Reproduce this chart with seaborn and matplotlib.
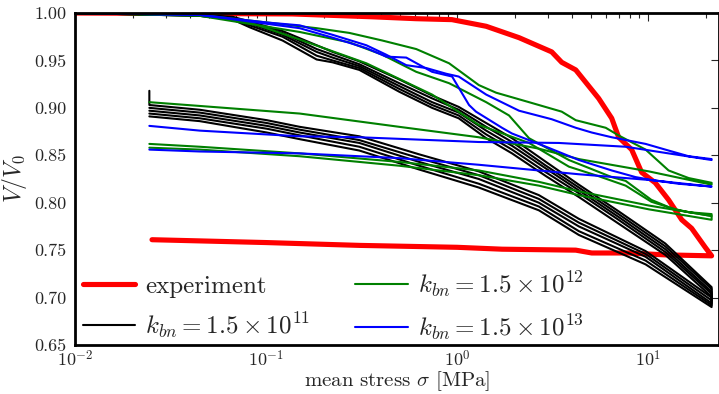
import numpy as np
import pandas as pd
import matplotlib
matplotlib.use("Agg")
import matplotlib.pyplot as plt
import seaborn as sns
from matplotlib.lines import Line2D
from matplotlib.ticker import FuncFormatter, LogLocator, FixedLocator

# experiment: loading then unloading
exp_sigma = [0.01, 0.137, 0.36, 0.61, 0.94, 1.42, 2.11, 3.13, 3.53, 4.18, 5.51, 6.45, 7.01, 8.2,
             9.25, 10.9, 12.8, 15.0, 16.9, 19.9, 21.5,
             12.3, 7.9, 5.07, 4.18, 1.72, 1.0, 0.31, 0.1, 0.0253]
exp_v = [1.0, 0.999, 0.996, 0.994, 0.993, 0.986, 0.974, 0.959, 0.948, 0.940, 0.910, 0.889, 0.869, 0.856,
         0.832, 0.821, 0.803, 0.782, 0.773, 0.753, 0.744,
         0.745, 0.747, 0.747, 0.750, 0.751, 0.753, 0.755, 0.758, 0.761]

# k_bn = 1.5e11 (black)
k11_load_sigma = [0.01, 0.045, 0.067, 0.082, 0.122, 0.184, 0.223, 0.308, 0.498, 0.74, 1.02, 1.42,
                  1.94, 2.92, 4.34, 7.0, 12.3, 21.5]
k11_load_v1 = [1.0, 0.998, 0.996, 0.991, 0.981, 0.966, 0.959, 0.949, 0.930, 0.913, 0.901, 0.884,
               0.868, 0.843, 0.819, 0.791, 0.757, 0.711]
k11_load_v2 = [1.0, 0.998, 0.995, 0.990, 0.979, 0.962, 0.956, 0.946, 0.926, 0.910, 0.898, 0.880,
               0.864, 0.839, 0.816, 0.788, 0.754, 0.709]
k11_load_v3 = [1.0, 0.998, 0.995, 0.989, 0.977, 0.959, 0.953, 0.944, 0.923, 0.906, 0.895, 0.876,
               0.860, 0.836, 0.813, 0.785, 0.751, 0.706]
k11_load_v4 = [1.0, 0.997, 0.994, 0.987, 0.975, 0.955, 0.950, 0.942, 0.920, 0.903, 0.892, 0.872,
               0.856, 0.832, 0.810, 0.782, 0.748, 0.704]
k11_load_v5 = [1.0, 0.997, 0.993, 0.985, 0.971, 0.951, 0.948, 0.940, 0.917, 0.900, 0.889, 0.868,
               0.852, 0.828, 0.806, 0.778, 0.745, 0.701]
k11_unload_sigma = [21.5, 9.7, 4.34, 2.68, 1.3, 0.633, 0.308, 0.15, 0.101, 0.045, 0.0245]
k11_unload_v1 = [0.700, 0.749, 0.783, 0.808, 0.833, 0.851, 0.870, 0.880, 0.887, 0.898, 0.903]
k11_unload_v2 = [0.697, 0.746, 0.779, 0.804, 0.829, 0.847, 0.866, 0.877, 0.884, 0.895, 0.900]
k11_unload_v3 = [0.694, 0.743, 0.775, 0.800, 0.825, 0.843, 0.863, 0.874, 0.881, 0.892, 0.897]
k11_unload_v4 = [0.692, 0.739, 0.770, 0.796, 0.820, 0.839, 0.859, 0.871, 0.878, 0.889, 0.894]
k11_unload_v5 = [0.690, 0.735, 0.766, 0.792, 0.816, 0.835, 0.855, 0.867, 0.874, 0.886, 0.891]
k11_spike_sigma = [0.0245, 0.0245]
k11_spike_v = [0.903, 0.918]

# k_bn = 1.5e12 (green)
k12_load_sigma1 = [0.01, 0.045, 0.101, 0.184, 0.273, 0.406, 0.611, 0.908, 1.3, 1.6, 2.38, 3.53, 4.18,
                   6.0, 7.0, 9.7, 12.8, 16.3, 21.5]
k12_load_v1 = [1.0, 0.998, 0.990, 0.984, 0.979, 0.971, 0.962, 0.947, 0.924, 0.916, 0.906, 0.896, 0.887,
               0.879, 0.871, 0.856, 0.834, 0.826, 0.821]
k12_load_sigma2 = [0.01, 0.045, 0.15, 0.273, 0.406, 0.611, 0.908, 1.42, 1.87, 2.38, 3.85, 6.45, 7.63,
                   10.4, 13.3, 16.3, 21.5]
k12_load_v2 = [1.0, 0.997, 0.980, 0.969, 0.956, 0.938, 0.926, 0.906, 0.892, 0.868, 0.845, 0.827, 0.823,
               0.803, 0.794, 0.790, 0.788]
k12_load_sigma3 = [0.01, 0.045, 0.082, 0.15, 0.335, 0.74, 1.3, 2.38, 3.85, 5.5, 7.63, 10.4, 14.4, 21.5]
k12_load_v3 = [1.0, 0.998, 0.990, 0.972, 0.947, 0.914, 0.882, 0.863, 0.838, 0.828, 0.818, 0.801, 0.792,
               0.786]
k12_unload_sigma = [21.5, 10.1, 4.34, 2.68, 1.3, 0.498, 0.15, 0.045, 0.0245]
k12_unload_v1 = [0.819, 0.833, 0.846, 0.857, 0.869, 0.880, 0.894, 0.902, 0.906]
k12_unload_v2 = [0.786, 0.797, 0.812, 0.822, 0.834, 0.843, 0.852, 0.859, 0.862]
k12_unload_v3 = [0.782, 0.793, 0.808, 0.818, 0.829, 0.839, 0.849, 0.856, 0.858]

# k_bn = 1.5e13 (blue)
k13_load_sigma1 = [0.01, 0.045, 0.101, 0.15, 0.223, 0.335, 0.426, 0.542, 0.689, 0.876, 1.02, 1.42,
                   2.11, 3.13, 4.18, 5.07, 6.45, 9.7, 12.8, 16.3, 21.5]
k13_load_v1 = [1.0, 0.998, 0.990, 0.987, 0.977, 0.966, 0.956, 0.945, 0.942, 0.936, 0.933, 0.914,
               0.897, 0.888, 0.879, 0.874, 0.869, 0.862, 0.855, 0.849, 0.846]
k13_load_sigma2 = [0.01, 0.045, 0.15, 0.223, 0.335, 0.426, 0.542, 0.74, 0.942, 1.155, 1.256, 1.718,
                   1.937, 2.92, 4.34, 6.45, 8.6, 10.4, 14.4, 21.5]
k13_load_v2 = [1.0, 0.998, 0.984, 0.974, 0.963, 0.954, 0.953, 0.938, 0.933, 0.903, 0.896, 0.879,
               0.873, 0.859, 0.845, 0.834, 0.827, 0.824, 0.820, 0.817]
k13_unload_sigma1 = [21.5, 12.8, 7.63, 3.41, 1.3, 0.308, 0.15, 0.045, 0.0245]
k13_unload_v1 = [0.845, 0.852, 0.859, 0.863, 0.864, 0.869, 0.870, 0.876, 0.881]
k13_unload_sigma2 = [21.5, 10.1, 4.34, 2.68, 1.3, 0.498, 0.15, 0.045, 0.0245]
k13_unload_v2 = [0.817, 0.824, 0.830, 0.834, 0.840, 0.847, 0.852, 0.854, 0.856]

y_ticks = [0.65, 0.70, 0.75, 0.80, 0.85, 0.90, 0.95, 1.00]
x_ticks = [0.01, 0.1, 1.0, 10.0]
labels = ["experiment", r"$k_{bn} = 1.5\times10^{11}$",
          r"$k_{bn} = 1.5\times10^{12}$", r"$k_{bn} = 1.5\times10^{13}$"]
colors = {"k11": "black", "k12": "#008000", "k13": "#0000ff"}

runs = [
    ("k11", "b1", k11_load_sigma + k11_unload_sigma + k11_spike_sigma,
     k11_load_v1 + k11_unload_v1 + k11_spike_v),
    ("k11", "b2", k11_load_sigma + k11_unload_sigma, k11_load_v2 + k11_unload_v2),
    ("k11", "b3", k11_load_sigma + k11_unload_sigma, k11_load_v3 + k11_unload_v3),
    ("k11", "b4", k11_load_sigma + k11_unload_sigma, k11_load_v4 + k11_unload_v4),
    ("k11", "b5", k11_load_sigma + k11_unload_sigma, k11_load_v5 + k11_unload_v5),
    ("k12", "g1", k12_load_sigma1 + k12_unload_sigma, k12_load_v1 + k12_unload_v1),
    ("k12", "g2", k12_load_sigma2 + k12_unload_sigma, k12_load_v2 + k12_unload_v2),
    ("k12", "g3", k12_load_sigma3 + k12_unload_sigma, k12_load_v3 + k12_unload_v3),
    ("k13", "u1", k13_load_sigma1 + k13_unload_sigma1, k13_load_v1 + k13_unload_v1),
    ("k13", "u2", k13_load_sigma2 + k13_unload_sigma2, k13_load_v2 + k13_unload_v2),
]
frames = []
for k, run, s, v in runs:
    frames.append(pd.DataFrame({"sigma": s, "V": v, "k": k, "run": run}))
sims = pd.concat(frames, ignore_index=True)

sns.set_style("white")
plt.rcParams["font.family"] = "serif"
plt.rcParams["font.serif"] = ["cmr10"]
plt.rcParams["mathtext.fontset"] = "cm"
plt.rcParams["axes.formatter.use_mathtext"] = True

fig = plt.figure(figsize=(7.19, 3.94), dpi=100)
ax = fig.add_axes([75 / 719, 1 - 345 / 394, 644 / 719, 332 / 394])

sns.lineplot(x=exp_sigma, y=exp_v, sort=False, estimator=None, color="red",
             linewidth=3.7, ax=ax)
sns.lineplot(data=sims, x="sigma", y="V", hue="k", units="run", estimator=None,
             sort=False, palette=colors, linewidth=1.5, legend=False, ax=ax)

ax.set_xscale("log")
ax.set_xlim(0.01, 23.5)
ax.set_ylim(0.65, 1.0)
ax.xaxis.set_major_locator(FixedLocator(x_ticks))
ax.xaxis.set_minor_locator(LogLocator(base=10, subs=np.arange(2, 10)))
ax.xaxis.set_major_formatter(FuncFormatter(lambda v, p: r"$10^{%d}$" % round(np.log10(v))))
ax.set_yticks(y_ticks)
ax.set_yticklabels(["%.2f" % t for t in y_ticks])

ax.tick_params(which="both", direction="in", top=True, right=True, width=0.8)
ax.tick_params(which="major", length=6, labelsize=13)
ax.tick_params(axis="x", which="major", pad=3)
ax.tick_params(axis="y", which="major", pad=6)
ax.tick_params(which="minor", length=3.5)
for sp in ax.spines.values():
    sp.set_linewidth(2)
    sp.set_color("black")

ax.set_xlabel(r"mean stress $\sigma$ [MPa]", fontsize=15, labelpad=0)
ax.set_ylabel(r"$V/V_0$", fontsize=17, labelpad=4)

handles = [Line2D([], [], color="red", lw=3.7), Line2D([], [], color="black", lw=1.5),
           Line2D([], [], color="#008000", lw=1.5), Line2D([], [], color="#0000ff", lw=1.5)]
ax.legend(handles, labels, ncol=2, loc="lower left", bbox_to_anchor=(0.012, 0.01),
          frameon=False, fontsize=18, handlelength=2.1, handletextpad=0.4,
          columnspacing=1.8, labelspacing=0.5, borderaxespad=0, borderpad=0)

fig.savefig("out.png", dpi=100)
